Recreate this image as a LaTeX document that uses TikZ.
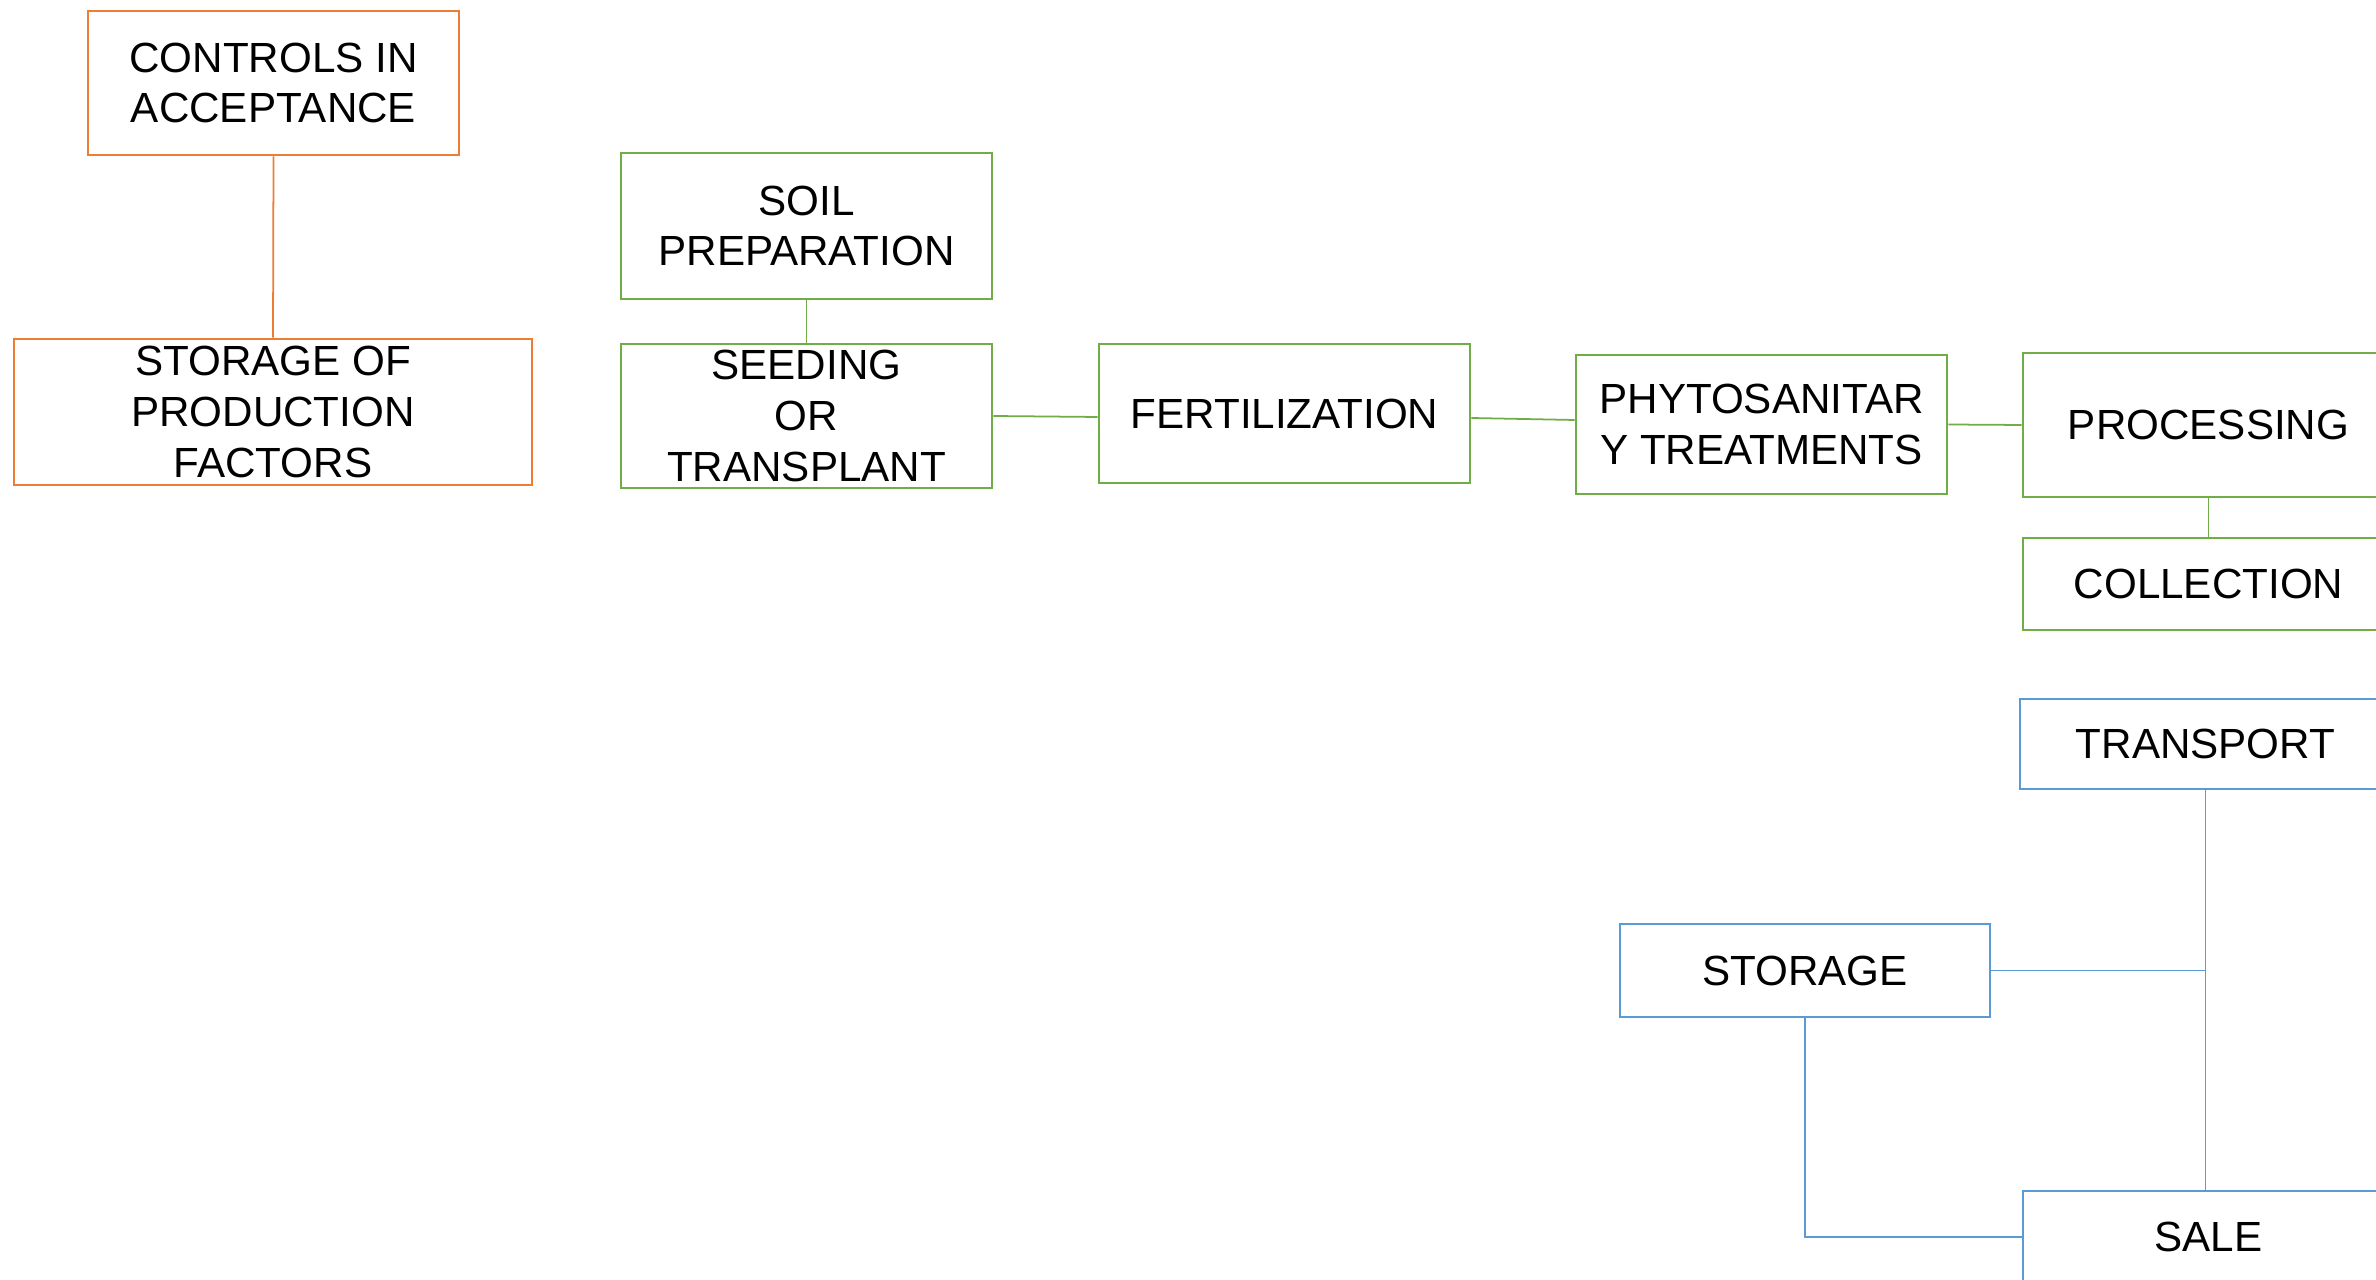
\documentclass[tikz,border=0pt]{standalone}
\usepackage{fontspec}
\setmainfont{Liberation Sans}
\usepackage{tikz}

\definecolor{boxorange}{HTML}{ED7D31}
\definecolor{boxgreen}{HTML}{70AD47}
\definecolor{boxblue}{HTML}{5B9BD5}

\begin{document}
\begin{tikzpicture}[
    stagebox/.style={draw, line width=0.8pt, inner sep=0pt, minimum width=3.71cm,
        align=center, font=\fontsize{12}{14.5}\selectfont},
    link/.style={line width=0.5pt}
  ]
            \useasboundingbox (0,0) rectangle (23.76,-12.8);
            \clip (0,0) rectangle (23.76,-12.8);
            % production factors
            \node[stagebox, draw=boxorange, minimum height=1.44cm] (ctrl) at (2.735,-0.83) {CONTROLS IN\\ACCEPTANCE};
            \node[stagebox, draw=boxorange, minimum width=5.18cm, minimum height=1.46cm] (stfac) at (2.73,-4.12) {STORAGE OF\\PRODUCTION\\FACTORS};
            \draw[link, boxorange] (ctrl.south) -- (stfac.north);
            % field
            \node[stagebox, draw=boxgreen, minimum height=1.46cm] (soil) at (8.065,-2.26) {SOIL\\PREPARATION};
            \node[stagebox, draw=boxgreen, minimum height=1.44cm] (seed) at (8.065,-4.16) {SEEDING\\OR\\TRANSPLANT};
            \node[stagebox, draw=boxgreen, minimum height=1.39cm] (fert) at (12.845,-4.135) {FERTILIZATION};
            \node[stagebox, draw=boxgreen, minimum height=1.39cm] (phyto) at (17.615,-4.245) {PHYTOSANITAR\\Y TREATMENTS};
            \node[stagebox, draw=boxgreen, minimum height=1.44cm] (proc) at (22.085,-4.25) {PROCESSING};
            \node[stagebox, draw=boxgreen, minimum height=0.92cm] (coll) at (22.085,-5.84) {COLLECTION};
            \draw[link, boxgreen] (soil.south) -- (seed.north);
            \draw[link, boxgreen] (seed.east) -- ([yshift=-0.01cm]seed.east -| fert.west);
            \draw[link, boxgreen] ([yshift=-0.045cm]fert.east) -- ([yshift=0.045cm]phyto.west);
            \draw[link, boxgreen] (phyto.east) -- (proc.west);
            \draw[link, boxgreen] (proc.south) -- (coll.north);
            % distribution
            \node[stagebox, draw=boxblue, minimum height=0.90cm] (trans) at (22.055,-7.44) {TRANSPORT};
            \node[stagebox, draw=boxblue, minimum width=3.70cm, minimum height=0.93cm] (stor) at (18.05,-9.705) {STORAGE};
            \node[stagebox, draw=boxblue, minimum height=0.92cm] (sale) at (22.085,-12.37) {SALE};
            \draw[link, boxblue] (trans.south) -- (trans.south |- sale.north);
            \draw[link, boxblue] (stor.east) -- (stor.east -| trans.south);
            \draw[link, boxblue] (stor.south) |- (sale.west);
          \end{tikzpicture}
\end{document}
